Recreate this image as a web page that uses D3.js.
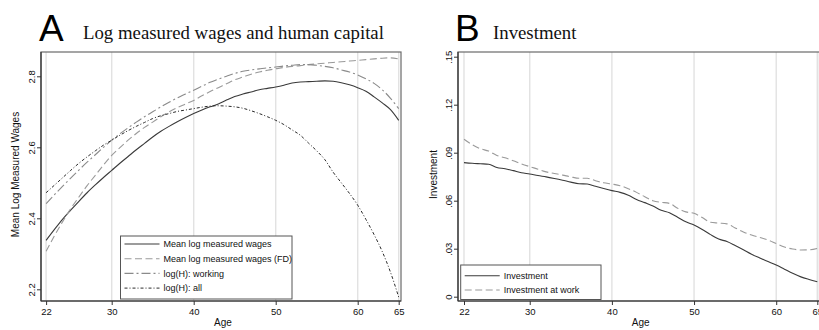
<!DOCTYPE html>
<html>
<head>
<meta charset="utf-8">
<script src="https://cdn.jsdelivr.net/npm/d3@7"></script>
<style>
  body { margin: 0; background: #fff; }
  svg { display: block; }
  .tick-label, .axis-title, .legend-label { font-family: "Liberation Sans", Arial, sans-serif; fill: #111; }
  .panel-letter { font-family: "Liberation Sans", Arial, sans-serif; fill: #000; }
  .panel-title { font-family: "Liberation Serif", "Times New Roman", serif; fill: #111; }
</style>
</head>
<body>
<svg id="chart" width="819" height="330"></svg>
<script>
/********/
/* data */
/********/

const ages = d3.range(22, 66);
const xTicks = [22, 30, 40, 50, 60, 65];

const wageTicks = [2.2, 2.4, 2.6, 2.8];
const investTicks = [0, 0.03, 0.06, 0.09, 0.12, 0.15];
const investTickLabels = ["0", ".03", ".06", ".09", ".12", ".15"];

const meanLogWages = [
  2.338, 2.368, 2.397, 2.423, 2.448, 2.472, 2.494, 2.515, 2.535, 2.555,
  2.574, 2.593, 2.611, 2.629, 2.645, 2.659, 2.672, 2.684, 2.695, 2.705,
  2.714, 2.722, 2.733, 2.743, 2.750, 2.756, 2.762, 2.766, 2.770, 2.775,
  2.781, 2.784, 2.785, 2.786, 2.787, 2.786, 2.782, 2.776, 2.768, 2.758,
  2.742, 2.725, 2.706, 2.676,
];
const meanLogWagesFD = [
  2.307, 2.350, 2.390, 2.427, 2.460, 2.492, 2.521, 2.550, 2.577, 2.599,
  2.620, 2.639, 2.656, 2.671, 2.686, 2.700, 2.712, 2.722, 2.732, 2.745,
  2.757, 2.768, 2.779, 2.790, 2.798, 2.806, 2.812, 2.817, 2.821, 2.825,
  2.828, 2.830, 2.833, 2.835, 2.837, 2.839, 2.841, 2.843, 2.845, 2.847,
  2.849, 2.851, 2.852, 2.849,
];
const logHWorking = [
  2.441, 2.466, 2.490, 2.513, 2.536, 2.558, 2.579, 2.600, 2.620, 2.638,
  2.655, 2.671, 2.686, 2.700, 2.714, 2.727, 2.739, 2.750, 2.761, 2.772,
  2.783, 2.792, 2.800, 2.808, 2.814, 2.818, 2.821, 2.824, 2.826, 2.829,
  2.831, 2.833, 2.833, 2.831, 2.828, 2.824, 2.818, 2.812, 2.804, 2.793,
  2.780, 2.762, 2.738, 2.709,
];
const logHAll = [
  2.472, 2.493, 2.514, 2.535, 2.555, 2.573, 2.590, 2.606, 2.620, 2.634,
  2.647, 2.659, 2.670, 2.681, 2.689, 2.695, 2.701, 2.705, 2.709, 2.713,
  2.716, 2.717, 2.716, 2.714, 2.710, 2.703, 2.695, 2.686, 2.676, 2.664,
  2.649, 2.634, 2.612, 2.590, 2.565, 2.530, 2.500, 2.470, 2.437, 2.397,
  2.354, 2.306, 2.248, 2.178,
];

const investment = [
  0.0838, 0.0834, 0.0831, 0.0828, 0.0808, 0.0800, 0.0788, 0.0775, 0.0767, 0.0757,
  0.0749, 0.0739, 0.0728, 0.0716, 0.0706, 0.0704, 0.0690, 0.0676, 0.0663, 0.0652,
  0.0634, 0.0608, 0.0588, 0.0567, 0.0540, 0.0525, 0.0497, 0.0468, 0.0448, 0.0420,
  0.0388, 0.0360, 0.0345, 0.0320, 0.0293, 0.0265, 0.0242, 0.0220, 0.0198, 0.0172,
  0.0146, 0.0124, 0.0108, 0.0094,
];
const investmentAtWork = [
  0.0984, 0.0950, 0.0925, 0.0910, 0.0883, 0.0868, 0.0850, 0.0830, 0.0813, 0.0797,
  0.0780, 0.0770, 0.0760, 0.0749, 0.0740, 0.0740, 0.0725, 0.0712, 0.0704, 0.0694,
  0.0675, 0.0652, 0.0625, 0.0600, 0.0590, 0.0583, 0.0553, 0.0530, 0.0521, 0.0495,
  0.0465, 0.0460, 0.0455, 0.0430, 0.0405, 0.0385, 0.0370, 0.0355, 0.0332, 0.0310,
  0.0298, 0.0292, 0.0293, 0.0302,
];

/**********/
/* layout */
/**********/

const svg = d3.select("#chart");
const plotTop = 52;
const plotBottom = 301;

function drawFrame(opts) {
  const g = svg.append("g");

  // vertical grid
  g.selectAll("line.grid")
    .data(xTicks)
    .enter()
    .append("line")
    .attr("x1", d => opts.x(d))
    .attr("x2", d => opts.x(d))
    .attr("y1", plotTop)
    .attr("y2", plotBottom)
    .attr("stroke", "#e2e2e2")
    .attr("stroke-width", 1.4);

  // plot outline
  g.append("rect")
    .attr("x", opts.left)
    .attr("y", plotTop)
    .attr("width", opts.right - opts.left)
    .attr("height", plotBottom - plotTop)
    .attr("fill", "none")
    .attr("stroke", "#6a6a6a")
    .attr("stroke-width", 1.2);

  // x axis
  const xAxis = d3.axisBottom(opts.x).tickValues(xTicks).tickSize(4).tickPadding(3);
  const gx = g.append("g").attr("transform", `translate(0,${plotBottom})`).call(xAxis);
  gx.select(".domain").attr("stroke", "#333").attr("stroke-width", 1.2)
    .attr("d", `M${opts.left},0H${opts.right}`);
  gx.selectAll(".tick line").attr("stroke", "#333");
  gx.selectAll(".tick text").attr("class", "tick-label").attr("font-size", 9.5)
    .attr("font-family", null).attr("fill", "#111");

  g.append("text")
    .attr("class", "axis-title")
    .attr("x", (opts.left + opts.right) / 2 + 2)
    .attr("y", 325.5)
    .attr("text-anchor", "middle")
    .attr("font-size", 10)
    .text("Age");

  // y axis
  const yAxis = d3.axisLeft(opts.y).tickValues(opts.yTicks).tickSize(4)
    .tickFormat((d, i) => opts.yLabels[i]);
  const gy = g.append("g").attr("transform", `translate(${opts.left},0)`).call(yAxis);
  gy.select(".domain").attr("stroke", "#333").attr("stroke-width", 1.2)
    .attr("d", `M0,${plotTop}V${plotBottom}`);
  gy.selectAll(".tick line").attr("stroke", "#333");
  gy.selectAll(".tick text")
    .attr("class", "tick-label")
    .attr("font-family", null)
    .attr("font-size", 9.5)
    .attr("fill", "#111")
    .attr("x", null)
    .attr("dy", null)
    .attr("text-anchor", "middle")
    .attr("transform", "translate(-6,0) rotate(-90)");

  g.append("text")
    .attr("class", "axis-title")
    .attr("transform", `translate(${opts.yTitleX},${(plotTop + plotBottom) / 2 - 2}) rotate(-90)`)
    .attr("text-anchor", "middle")
    .attr("font-size", 10)
    .text(opts.yTitle);

  // headings
  svg.append("text")
    .attr("class", "panel-letter")
    .attr("x", opts.letterX)
    .attr("y", 40.5)
    .attr("font-size", 37)
    .text(opts.letter);
  svg.append("text")
    .attr("class", "panel-title")
    .attr("x", opts.titleX)
    .attr("y", 39.3)
    .attr("font-size", 18.8)
    .text(opts.title);

  return g;
}

function drawSeries(g, x, y, series) {
  const line = d3.line()
    .x((d, i) => x(ages[i]))
    .y(d => y(d))
    .curve(d3.curveMonotoneX);
  series.forEach(s => {
    g.append("path")
      .datum(s.values)
      .attr("d", line)
      .attr("fill", "none")
      .attr("stroke", s.colour)
      .attr("stroke-width", s.width)
      .attr("stroke-dasharray", s.dash);
  });
}

function drawLegend(g, box, series) {
  g.append("rect")
    .attr("x", box.x)
    .attr("y", box.y)
    .attr("width", box.w)
    .attr("height", box.h)
    .attr("fill", "#fff")
    .attr("stroke", "#555")
    .attr("stroke-width", 1);
  series.forEach((s, i) => {
    const cy = box.y + box.first + i * box.step;
    g.append("line")
      .attr("x1", box.x + 4)
      .attr("x2", box.x + 39)
      .attr("y1", cy)
      .attr("y2", cy)
      .attr("stroke", s.colour)
      .attr("stroke-width", s.width)
      .attr("stroke-dasharray", s.dash);
    g.append("text")
      .attr("class", "legend-label")
      .attr("x", box.x + 43)
      .attr("y", cy + 3.3)
      .attr("font-size", 9)
      .text(s.name);
  });
}

/***********/
/* panel A */
/***********/

const xA = d3.scaleLinear().domain([22, 65]).range([46.1, 398.7]);
const yA = d3.scaleLinear().domain([2.2, 2.8]).range([289.3, 76.3]);

const seriesA = [
  { name: "Mean log measured wages", values: meanLogWages, colour: "#3a3a3a", width: 1.1, dash: null },
  { name: "Mean log measured wages (FD)", values: meanLogWagesFD, colour: "#9a9a9a", width: 1.1, dash: "7,3.5" },
  { name: "log(H): working", values: logHWorking, colour: "#8a8a8a", width: 1.1, dash: "9,3,2,3" },
  { name: "log(H): all", values: logHAll, colour: "#2a2a2a", width: 1, dash: "3,2,1,2" },
];

const gA = drawFrame({
  x: xA, y: yA, left: 41, right: 401,
  yTicks: wageTicks, yLabels: wageTicks.map(d3.format(".1f")),
  yTitle: "Mean Log Measured Wages", yTitleX: 18.5,
  letter: "A", letterX: 39, title: "Log measured wages and human capital", titleX: 83,
});
drawSeries(gA, xA, yA, seriesA);
drawLegend(gA, { x: 120.5, y: 236, w: 171.5, h: 63, first: 8, step: 14.7 }, seriesA);

/***********/
/* panel B */
/***********/

const xB = d3.scaleLinear().domain([22, 65]).range([464, 817.3]);
const yB = d3.scaleLinear().domain([0, 0.15]).range([296.7, 56.7]);

const seriesB = [
  { name: "Investment", values: investment, colour: "#3a3a3a", width: 1.1, dash: null },
  { name: "Investment at work", values: investmentAtWork, colour: "#9a9a9a", width: 1.1, dash: "7,3.5" },
];

const gB = drawFrame({
  x: xB, y: yB, left: 458, right: 819.5,
  yTicks: investTicks, yLabels: investTickLabels,
  yTitle: "Investment", yTitleX: 437,
  letter: "B", letterX: 455, title: "Investment", titleX: 493,
});
drawSeries(gB, xB, yB, seriesB);
drawLegend(gB, { x: 460.7, y: 265, w: 140.3, h: 34.5, first: 10.7, step: 14.3 }, seriesB);
</script>
</body>
</html>
